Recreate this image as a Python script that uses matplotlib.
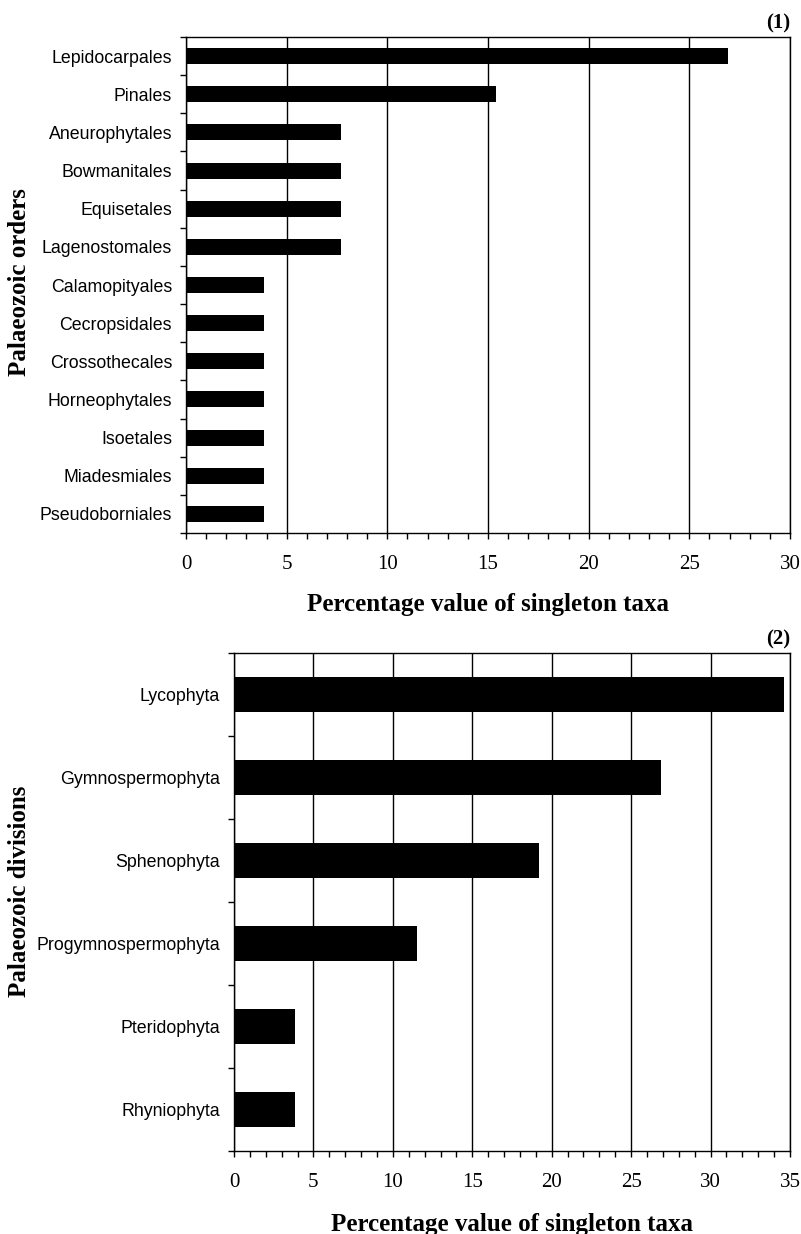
import matplotlib
matplotlib.use("Agg")
import matplotlib.pyplot as plt
import numpy as np

# data (percent of 26 singleton taxa)
orders = ["Lepidocarpales", "Pinales", "Aneurophytales", "Bowmanitales",
          "Equisetales", "Lagenostomales", "Calamopityales", "Cecropsidales",
          "Crossothecales", "Horneophytales", "Isoetales", "Miadesmiales",
          "Pseudoborniales"]
order_pct = [26.9, 15.4, 7.7, 7.7, 7.7, 7.7, 3.85, 3.85, 3.85, 3.85, 3.85, 3.85, 3.85]

divisions = ["Lycophyta", "Gymnospermophyta", "Sphenophyta",
             "Progymnospermophyta", "Pteridophyta", "Rhyniophyta"]
division_pct = [34.6, 26.9, 19.2, 11.5, 3.85, 3.85]

serif = "Liberation Serif"
sans = "Liberation Sans"

W, H = 801, 1234
fig = plt.figure(figsize=(W / 100, H / 100), dpi=100)


def px_axes(left, top, right, bottom):
    return fig.add_axes([left / W, 1 - bottom / H, (right - left) / W, (bottom - top) / H])


def panel(ax, names, vals, xmax, tag):
    y = np.arange(len(names))
    ax.barh(y, vals, height=0.42, color="black", zorder=3)
    ax.set_xlim(0, xmax)
    ax.set_ylim(len(names) - 0.5, -0.5)
    ax.set_xticks(np.arange(0, xmax + 1, 5))
    ax.set_xticks(np.arange(0, xmax + 1, 1), minor=True)
    ax.set_yticks(y)
    ax.set_yticklabels(names, fontfamily=sans, fontsize=12.8)
    ax.set_yticks(np.arange(-0.5, len(names), 1), minor=True)
    ax.tick_params(axis="y", which="major", length=0, pad=10)
    ax.tick_params(axis="y", which="minor", length=4.5, width=1, direction="out")
    ax.tick_params(axis="x", which="both", length=4.5, width=1, direction="out", pad=11)
    for lab in ax.get_xticklabels():
        lab.set_fontfamily(serif)
        lab.set_fontsize(15)
    ax.grid(axis="x", which="major", color="black", linewidth=1, zorder=1)
    for s in ax.spines.values():
        s.set_linewidth(1)
        s.set_color("black")
    ax.text(1.0, 1.008, tag, transform=ax.transAxes, ha="right", va="bottom",
            fontfamily=serif, fontsize=15, fontweight="bold")


def label(x, y, txt, rot=0):
    fig.text(x / W, 1 - y / H, txt, ha="center", va="center", rotation=rot,
             fontfamily=serif, fontsize=18, fontweight="bold")


ax1 = px_axes(186, 37, 790, 533)
panel(ax1, orders, order_pct, 30, "(1)")
label(20, 282, "Palaeozoic orders", 90)
label((186 + 790) / 2, 605, "Percentage value of singleton taxa")

ax2 = px_axes(234, 653, 790, 1151)
panel(ax2, divisions, division_pct, 35, "(2)")
label(20, 891, "Palaeozoic divisions", 90)
label((234 + 790) / 2, 1224, "Percentage value of singleton taxa")

fig.savefig("out.png", dpi=100)
